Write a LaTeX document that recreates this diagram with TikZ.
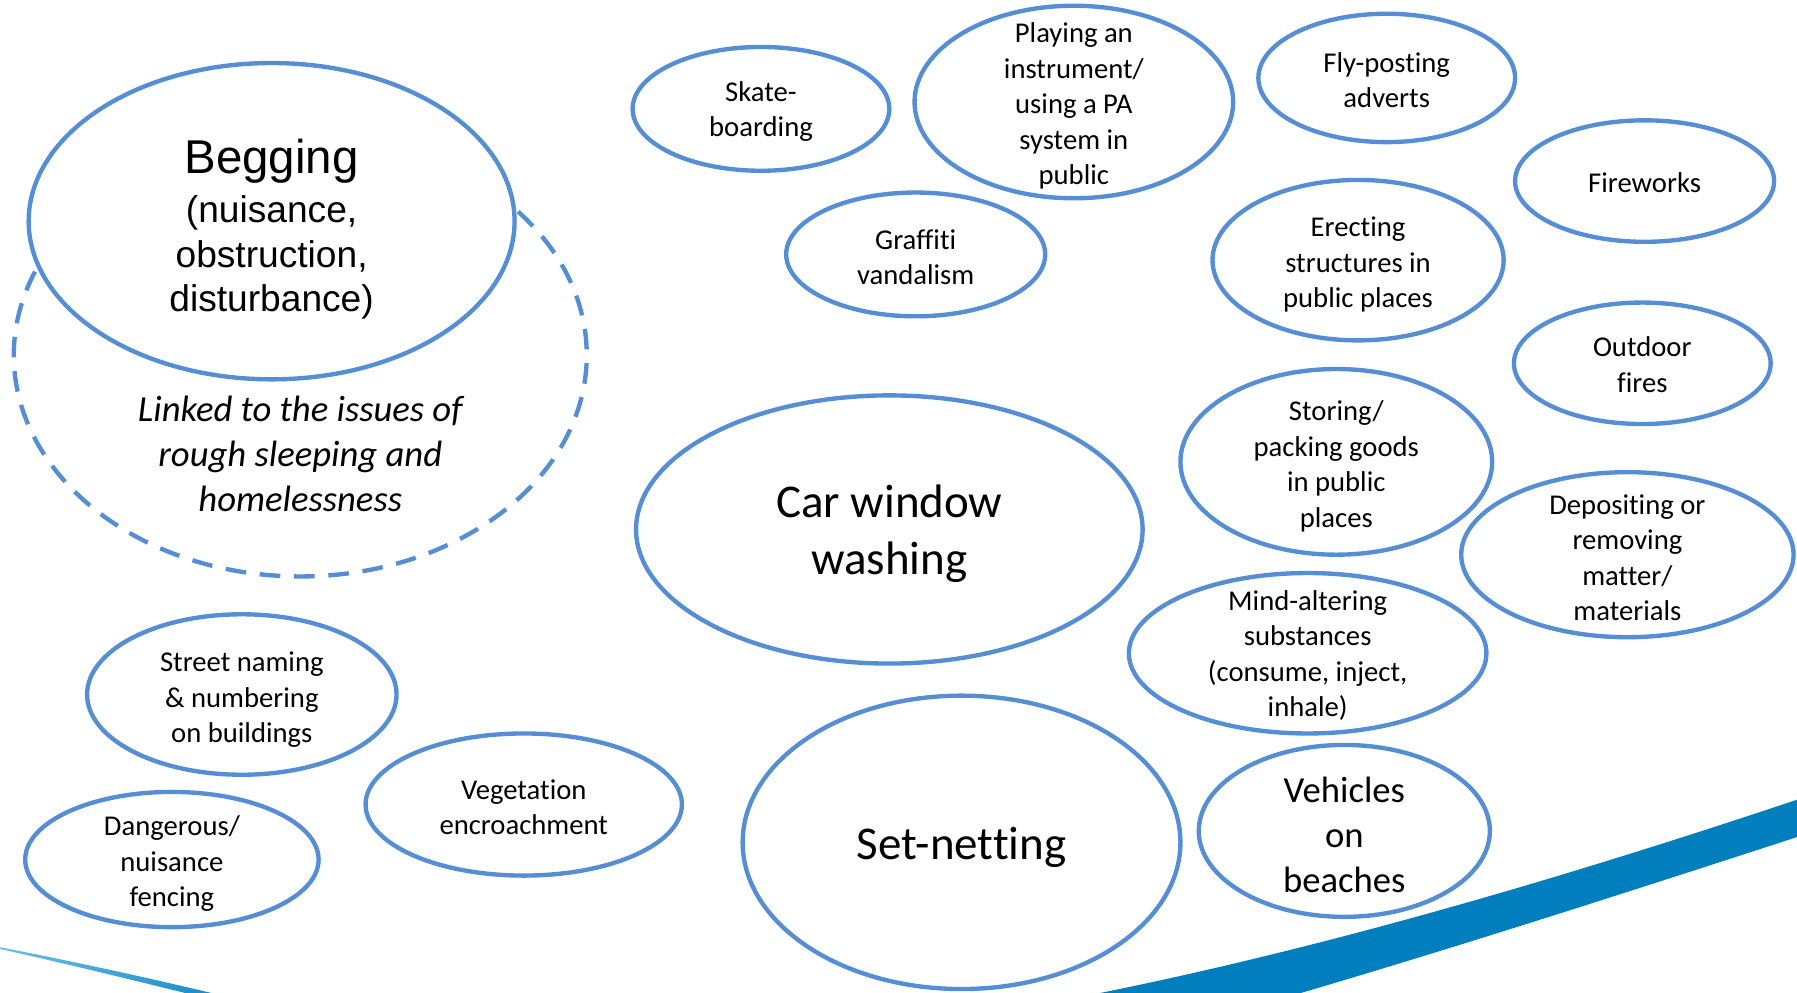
\documentclass[tikz,border=0pt]{standalone}
\usepackage{fontspec}
\setmainfont{Carlito}[Ligatures=CommonOff]
\newfontfamily\arialfont{Liberation Sans}
\usepackage{tikz}
\usetikzlibrary{positioning, shapes}

\definecolor{ellblue}{RGB}{85,142,213}
\definecolor{swooshblue}{RGB}{0,126,190}
\definecolor{swooshlight}{RGB}{110,190,230}

\begin{document}
\begin{tikzpicture}[x=0.5pt,y=0.5pt,yscale=-1,
  ell/.style={draw=ellblue, line width=1.9pt},
  lbl/.style={align=center, inner sep=0pt, font=\fontsize{12.5}{15.5}\selectfont},
  lblmid/.style={align=center, inner sep=0pt, font=\fontsize{16}{19.5}\selectfont},
  lblbig/.style={align=center, inner sep=0pt, font=\fontsize{20.5}{25}\selectfont}]
\clip (0,0) rectangle (1568,866);
\fill [white] (0,0) rectangle (1568,866);

% swooshes
\shade [left color=swooshlight, right color=swooshblue] (0,826.5) .. controls (80,842) and (160,860) .. (240,880) -- (240,886) .. controls (160,866) and (80,846) .. (0,828) -- cycle ;
\fill [swooshblue] (900,878) .. controls (1130,836) and (1370,765) .. (1600,687) -- (1600,720) .. controls (1400,785) and (1200,850) .. (1000,905) -- cycle ;

% begging
\draw [ell, dash pattern=on 9pt off 6pt] (262,310) ++(-40.5:250 and 193) arc [start angle=-40.5, end angle=204, x radius=250, y radius=193] ;
\draw [ell] (237,193) ellipse [x radius=212, y radius=138] ;
\draw (237,200) node (begging) [align=center, inner sep=0pt, font=\arialfont\fontsize{16.2}{19.5}\selectfont] {{\fontsize{20.7}{24}\selectfont Begging}\\[2pt](nuisance,\\obstruction,\\disturbance)};
% Text Node
\draw (262,396) node (linked) [lblmid] {\itshape Linked to the issues of\\\itshape rough sleeping and\\\itshape homelessness};

% top row
\draw [ell] (664,95) ellipse [x radius=112, y radius=54] ;
\draw (664,97.5) node (skate) [lbl] {Skate-\\boarding};
\draw [ell] (937,89) ellipse [x radius=139, y radius=84] ;
\draw (937,92.5) node (playing) [lbl] {Playing an\\instrument/\\using a PA\\system in\\public};
\draw [ell] (1210,68) ellipse [x radius=112, y radius=56] ;
\draw (1210,70) node (flyposting) [lbl] {Fly-posting\\adverts};
\draw [ell] (1435,158) ellipse [x radius=113, y radius=53] ;
\draw (1435,159) node (fireworks) [lbl] {Fireworks};
\draw [ell] (799,222) ellipse [x radius=113, y radius=54] ;
\draw (799,224.5) node (graffiti) [lbl] {Graffiti\\vandalism};
\draw [ell] (1185,227) ellipse [x radius=127, y radius=70] ;
\draw (1185,231) node (erecting) [lbl] {Erecting\\structures in\\public places};
\draw [ell] (1433,317) ellipse [x radius=112, y radius=53] ;
\draw (1433,318) node (outdoor) [lbl] {Outdoor\\fires};

% middle
\draw [ell] (776,462) ellipse [x radius=221, y radius=117] ;
\draw (776,466) node (carwash) [lblbig] {Car window\\washing};
\draw [ell] (1166,403) ellipse [x radius=136, y radius=81] ;
\draw (1166,407) node (storing) [lbl] {Storing/\\packing goods\\in public\\places};
\draw [ell] (1420,484) ellipse [x radius=145, y radius=72] ;
\draw (1420,486.5) node (depositing) [lbl] {Depositing or\\removing\\matter/\\materials};
\draw [ell] (1141,570) ellipse [x radius=156, y radius=70] ;
\draw (1141,572) node (mind) [lbl] {Mind-altering\\substances\\(consume, inject,\\inhale)};

% bottom
\draw [ell] (211,606) ellipse [x radius=135, y radius=70] ;
\draw (211,610.5) node (street) [lbl] {Street naming\\\& numbering\\on buildings};
\draw [ell] (457,702) ellipse [x radius=138, y radius=62] ;
\draw (457,704.5) node (vegetation) [lbl] {Vegetation\\encroachment};
\draw [ell] (150,750) ellipse [x radius=128, y radius=59] ;
\draw (150,753.5) node (fencing) [lbl] {Dangerous/\\nuisance\\fencing};
\draw [ell] (839,735) ellipse [x radius=191, y radius=128] ;
\draw (839,739) node (setnet) [lblbig] {Set-netting};
\draw [ell] (1173,725) ellipse [x radius=127, y radius=75] ;
\draw (1173,728.5) node (vehicles) [lblmid] {Vehicles\\on\\beaches};

\end{tikzpicture}
\end{document}
